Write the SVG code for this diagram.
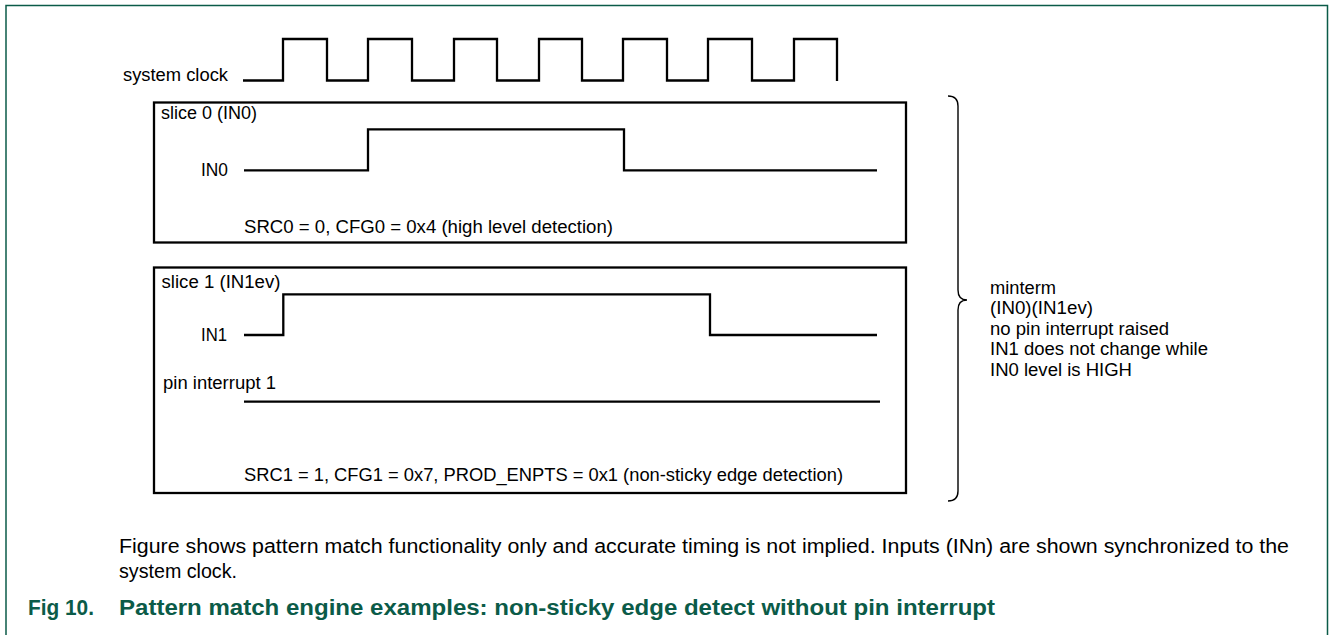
<svg xmlns="http://www.w3.org/2000/svg" width="1330" height="635" viewBox="0 0 1330 635">
<style>
.t{font-family:"Liberation Sans",Arial,sans-serif;font-size:18.3px;fill:#000}
.w{fill:none;stroke:#000;stroke-width:2.3;stroke-linejoin:miter;stroke-linecap:butt}
.box{fill:#fff;stroke:#000;stroke-width:2.3}
.d{font-family:"Liberation Sans",Arial,sans-serif;font-size:20px;fill:#000}
.c{font-family:"Liberation Sans",Arial,sans-serif;font-size:22px;font-weight:bold;fill:#0b5b48}
</style>
<rect width="1330" height="635" fill="#fff"/>
<path d="M6,635 V5.5 H1327.5 V635" fill="none" stroke="#0b5b48" stroke-width="1.5"/>

<g id="clock">
<text class="t" x="123" y="81" textLength="105" lengthAdjust="spacingAndGlyphs">system clock</text>
<path class="w" d="M243,80.5 H283 V39 H327 V80.5 H368 V39 H412 V80.5 H454 V39 H497 V80.5 H539 V39 H582 V80.5 H623 V39 H667 V80.5 H708 V39 H752 V80.5 H794 V39 H837 V81"/>
</g>

<g id="slice0">
<rect class="box" x="154" y="102.5" width="752" height="140"/>
<text class="t" x="161" y="119" textLength="96" lengthAdjust="spacingAndGlyphs">slice 0 (IN0)</text>
<text class="t" x="201" y="175.5" textLength="27" lengthAdjust="spacingAndGlyphs">IN0</text>
<path class="w" d="M244,170.3 H368 V129.3 H624 V170.3 H877"/>
<text class="t" x="244" y="232.5" textLength="369" lengthAdjust="spacingAndGlyphs">SRC0 = 0, CFG0 = 0x4 (high level detection)</text>
</g>

<g id="slice1">
<rect class="box" x="154" y="267.5" width="752" height="225.5"/>
<text class="t" x="161.5" y="288" textLength="119" lengthAdjust="spacingAndGlyphs">slice 1 (IN1ev)</text>
<text class="t" x="201" y="340.5" textLength="26" lengthAdjust="spacingAndGlyphs">IN1</text>
<path class="w" d="M244,335 H283.3 V294.3 H710 V335 H877"/>
<text class="t" x="163" y="389" textLength="113" lengthAdjust="spacingAndGlyphs">pin interrupt 1</text>
<path class="w" d="M244,401.7 H880"/>
<text class="t" x="244" y="481" textLength="599" lengthAdjust="spacingAndGlyphs">SRC1 = 1, CFG1 = 0x7, PROD_ENPTS = 0x1 (non-sticky edge detection)</text>
</g>

<g id="minterm">
<path d="M948,96 Q958,96 958,106 L958,290 Q958,300 967,300 Q958,300 958,310 L958,491 Q958,501 948,501" fill="none" stroke="#000" stroke-width="1.4"/>
<text class="t" x="990" y="293.5" textLength="66" lengthAdjust="spacingAndGlyphs">minterm</text>
<text class="t" x="990" y="314" textLength="103" lengthAdjust="spacingAndGlyphs">(IN0)(IN1ev)</text>
<text class="t" x="990" y="334.5" textLength="179" lengthAdjust="spacingAndGlyphs">no pin interrupt raised</text>
<text class="t" x="990" y="355" textLength="218" lengthAdjust="spacingAndGlyphs">IN1 does not change while</text>
<text class="t" x="990" y="375.5" textLength="142" lengthAdjust="spacingAndGlyphs">IN0 level is HIGH</text>
</g>

<g id="notes">
<text class="d" x="119" y="552.5" textLength="1170" lengthAdjust="spacingAndGlyphs">Figure shows pattern match functionality only and accurate timing is not implied. Inputs (INn) are shown synchronized to the</text>
<text class="d" x="119" y="578" textLength="118" lengthAdjust="spacingAndGlyphs">system clock.</text>
<text class="c" x="28" y="615" textLength="66" lengthAdjust="spacingAndGlyphs">Fig 10.</text>
<text class="c" x="119" y="615" textLength="876" lengthAdjust="spacingAndGlyphs">Pattern match engine examples: non-sticky edge detect without pin interrupt</text>
</g>
</svg>
